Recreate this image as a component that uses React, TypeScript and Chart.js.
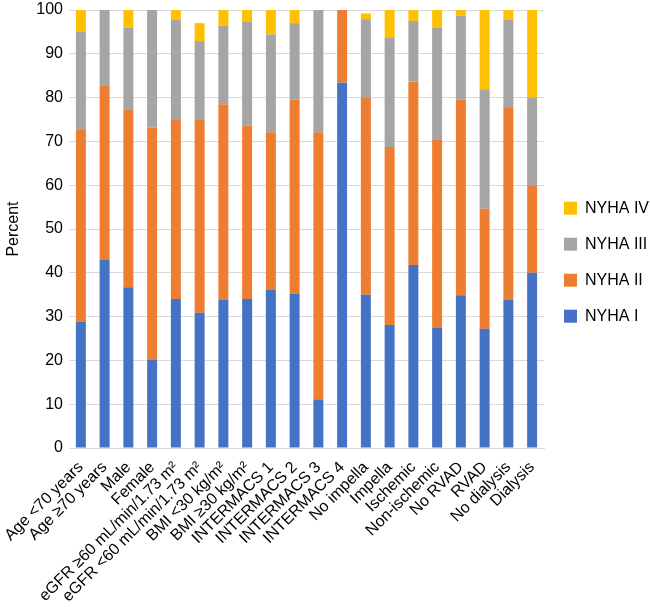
import React, { useEffect, useRef } from "react";
import { Chart, registerables } from "chart.js";

Chart.register(...registerables);

const categories: string[] = [
  "Age <70 years",
  "Age ≥70 years",
  "Male",
  "Female",
  "eGFR ≥60 mL/min/1.73 m²",
  "eGFR <60 mL/min/1.73 m²",
  "BMI <30 kg/m²",
  "BMI ≥30 kg/m²",
  "INTERMACS 1",
  "INTERMACS 2",
  "INTERMACS 3",
  "INTERMACS 4",
  "No impella",
  "Impella",
  "Ischemic",
  "Non-ischemic",
  "No RVAD",
  "RVAD",
  "No dialysis",
  "Dialysis",
];

const nyha1: number[] = [28.8, 42.9, 36.7, 20.1, 34.0, 30.9, 33.9, 34.0, 36.2, 35.2, 11.1, 83.4, 35.0, 28.1, 41.8, 27.4, 34.9, 27.2, 33.8, 40.0];
const nyha2: number[] = [44.0, 39.9, 40.5, 53.1, 40.9, 44.0, 44.6, 39.6, 35.9, 44.3, 61.0, 16.6, 44.9, 40.6, 41.9, 43.1, 44.6, 27.4, 43.8, 20.0];
const nyha3: number[] = [22.2, 17.2, 18.8, 26.8, 22.8, 18.0, 17.9, 23.7, 22.3, 17.5, 27.9, 0, 18.0, 24.9, 13.8, 25.5, 19.2, 27.3, 20.1, 20.0];
const nyha4: number[] = [5.0, 0, 4.0, 0, 2.3, 4.1, 3.6, 2.7, 5.6, 3.0, 0, 0, 1.3, 6.4, 2.5, 4.0, 1.3, 18.1, 2.3, 20.0];

const seriesNames: string[] = ["NYHA I", "NYHA II", "NYHA III", "NYHA IV"];
const yTicks: number[] = [0, 10, 20, 30, 40, 50, 60, 70, 80, 90, 100];

const COLORS = ["#4472C4", "#ED7D31", "#A5A5A5", "#FFC000"];
const FONT = "'Liberation Sans', Arial, Helvetica, sans-serif";

export default function App() {
  const ref = useRef<HTMLCanvasElement | null>(null);

  useEffect(() => {
    if (!ref.current) return;
    const series = [nyha1, nyha2, nyha3, nyha4];
    const chart = new Chart(ref.current, {
      type: "bar",
      data: {
        labels: categories,
        datasets: series.map((d, i) => ({
          label: seriesNames[i],
          data: d,
          backgroundColor: COLORS[i],
          borderWidth: 0,
          categoryPercentage: 1,
          barPercentage: 0.42,
        })),
      },
      options: {
        animation: false,
        responsive: true,
        maintainAspectRatio: false,
        layout: { padding: { top: 10, right: 0, bottom: 0, left: 0 } },
        plugins: {
          tooltip: { enabled: false },
          legend: {
            position: "right",
            fullSize: false,
            reverse: true,
            maxWidth: 106,
            title: { display: true, text: " ", padding: 26, font: { size: 12, family: FONT } },
            labels: {
              boxWidth: 13,
              boxHeight: 13,
              padding: 20,
              color: "#000",
              font: { size: 16, family: FONT },
            },
          },
        },
        scales: {
          x: {
            stacked: true,
            grid: { display: false },
            border: { display: true, color: "#d9d9d9", width: 1 },
            afterFit: (axis: any) => {
              axis.height = 159;
              axis.paddingLeft = 0;
              axis.paddingRight = 0;
            },
            ticks: {
              autoSkip: false,
              maxRotation: 45,
              minRotation: 45,
              color: "#000",
              padding: 2,
              font: { size: 16, family: FONT },
            },
          },
          y: {
            stacked: true,
            min: 0,
            max: 100,
            afterBuildTicks: (axis: any) => {
              axis.ticks = yTicks.map((v) => ({ value: v }));
            },
            afterFit: (axis: any) => {
              axis.width = 69;
              axis.paddingTop = 0;
              axis.paddingBottom = 0;
            },
            grid: { color: "#d9d9d9", drawTicks: false, lineWidth: 1 },
            border: { display: false },
            ticks: {
              color: "#000",
              padding: 6,
              font: { size: 16, family: FONT },
            },
            title: {
              display: true,
              text: "Percent",
              color: "#000",
              padding: { top: 4, bottom: 4 },
              font: { size: 16, family: FONT },
            },
          },
        },
      },
    });
    return () => chart.destroy();
  }, []);

  return (
    <div style={{ position: "fixed", left: 0, top: 0, width: 650, height: 607, background: "#fff" }}>
      <canvas ref={ref} />
    </div>
  );
}
